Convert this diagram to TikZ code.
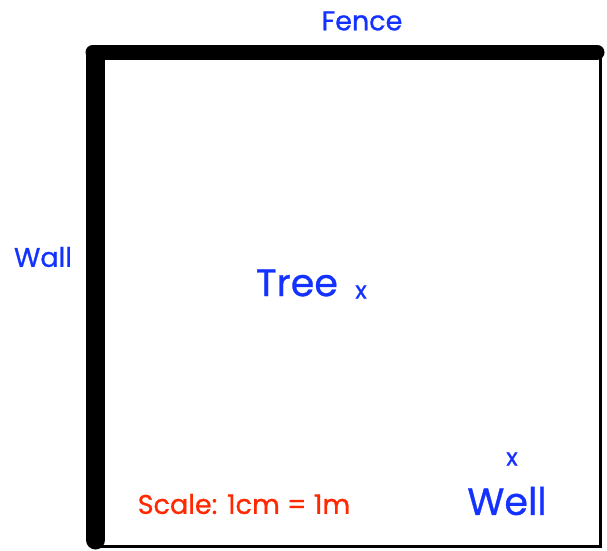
\documentclass[tikz,border=0pt]{standalone}
\usepackage{fontspec}
\setmainfont{Poppins}[FakeBold=0.8]
\definecolor{lblue}{RGB}{20,50,255}
\definecolor{lred}{RGB}{255,40,0}
\begin{document}
\begin{tikzpicture}[x=1pt,y=-1pt,
  bluelabel/.style={text=lblue,inner sep=0pt},
  bigfont/.style={font=\fontsize{38}{40}\selectfont},
  midfont/.style={font=\fontsize{27}{30}\selectfont},
  markx/.style={text=lblue,inner sep=0pt,font=\fontsize{24}{26}\selectfont}]
\useasboundingbox (0,0) rectangle (607,550);
% thin frame
\draw[line width=3pt] (100,52) rectangle (600,546);
% fence
\draw[line width=15pt,line cap=round] (93,52) -- (597,52);
% wall
\draw[line width=19pt,line cap=round] (95.5,56) -- (95.5,540);
% labels
\node[bluelabel,midfont] (fence) at (362,21) {Fence};
\node[bluelabel,midfont] (wall) at (43,257) {Wall};
\node[bluelabel,bigfont] (tree) at (297,283) {Tree};
\node[markx] (treex) at (361,292) {x};
\node[markx] (wellx) at (512,459) {x};
\node[bluelabel,bigfont] (well) at (507,501) {Well};
\node[text=lred,inner sep=0pt,font=\fontsize{27}{30}\selectfont] (scale) at (244,504) {Scale: 1cm = 1m};
\end{tikzpicture}
\end{document}
